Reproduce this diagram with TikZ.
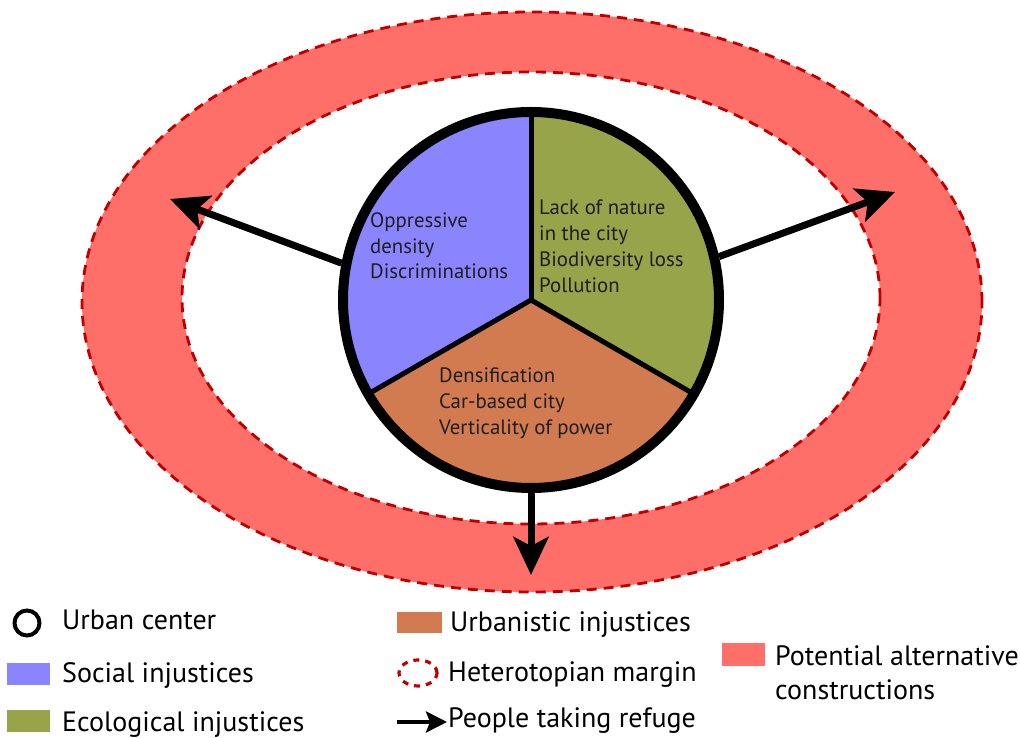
\documentclass[tikz,border=0pt]{standalone}
\usepackage{fontspec}
\setmainfont{PT Sans}
\usetikzlibrary{arrows.meta,shapes.geometric}
\definecolor{socialc}{HTML}{8A85FF}
\definecolor{ecoc}{HTML}{97A44A}
\definecolor{urbc}{HTML}{D37B50}
\definecolor{ringc}{HTML}{FF6F69}
\definecolor{dashc}{HTML}{C00000}
\definecolor{txtc}{HTML}{1E1E1E}
\tikzset{
  margin/.style={draw=dashc, line width=2.8pt, dash pattern=on 10pt off 7pt},
  refuge/.style={line width=7pt, -{Stealth[length=38pt,width=35pt,inset=9pt]}},
  pietext/.style={anchor=base west, inner sep=0pt, text=txtc, font=\fontsize{20.8}{24}\selectfont},
  legtext/.style={anchor=base west, inner sep=0pt, text=black, font=\fontsize{28}{32}\selectfont},
  divider/.style={line width=5pt},
}
\begin{document}
\begin{tikzpicture}[x=1pt,y=1pt]
\useasboundingbox (0,0) rectangle (1020,738);
% ring of potential alternative constructions
\fill[ringc, even odd rule] (532,436) ellipse [x radius=450, y radius=290]
                           (531,440) ellipse [x radius=349, y radius=226];
\draw[margin] (532,436) ellipse [x radius=450, y radius=290];
\draw[margin] (531,440) ellipse [x radius=349, y radius=226];
% pie
\coordinate (c) at (531,438);
\fill[socialc] (c) -- ++(90:188) arc[start angle=90, end angle=210, radius=188] -- cycle;
\fill[urbc] (c) -- ++(210:188) arc[start angle=210, end angle=330, radius=188] -- cycle;
\fill[ecoc] (c) -- ++(330:188) arc[start angle=330, end angle=450, radius=188] -- cycle;
\draw[divider] (c) -- ++(90:188);
\draw[divider] (c) -- ++(210:188);
\draw[divider] (c) -- ++(330:188);
\node[circle, draw, line width=10pt, minimum size=376pt, inner sep=0pt] (city) at (c) {};
% pie texts
\node[pietext] (s1) at (370,510) {Oppressive};
\node[pietext] (s2) at (370,484.5) {density};
\node[pietext] (s3) at (370,459) {Discriminations};
\node[pietext] (e1) at (539,523) {Lack of nature};
\node[pietext] (e2) at (539,497.3) {in the city};
\node[pietext] (e3) at (539,471.6) {Biodiversity loss};
\node[pietext] (e4) at (539,445.9) {Pollution};
\node[pietext] (u1) at (439,355) {Densification};
\node[pietext] (u2) at (439,329.3) {Car-based city};
\node[pietext] (u3) at (439,303.6) {Verticality of power};
% arrows
\coordinate (lt) at (170,539);
\coordinate (rt) at (895,546);
\coordinate (dt) at (531,163);
\draw[refuge] (city.169) -- (lt);
\draw[refuge] (city.13) -- (rt);
\draw[refuge] (city.270) -- (dt);
% legend
\node[circle, draw, line width=4pt, minimum size=25pt, inner sep=0pt] (lcity) at (27,115) {};
\node[legtext] (lcityt) at (62,108) {Urban center};
\fill[socialc] (7,53) rectangle (50,75);
\node[legtext] (lsoct) at (62,55) {Social injustices};
\fill[ecoc] (7,6) rectangle (50,28);
\node[legtext] (lecot) at (62,6) {Ecological injustices};
\fill[urbc] (397,105) rectangle (442,126);
\node[legtext] (lurbt) at (450,106) {Urbanistic injustices};
\draw[draw=dashc, line width=3.2pt, dash pattern=on 6pt off 6pt] (418,65) ellipse [x radius=19, y radius=13];
\node[legtext] (lmart) at (448,56) {Heterotopian margin};
\coordinate (la0) at (397,16);
\coordinate (la1) at (447,16);
\draw[line width=4pt, -{Stealth[length=21pt,width=21pt,inset=4pt]}] (la0) -- (la1);
\node[legtext] (lreft) at (448,10) {People taking refuge};
\fill[ringc] (722,72) rectangle (765,95);
\node[legtext] (lpot1) at (775,72) {Potential alternative};
\node[legtext] (lpot2) at (775,38) {constructions};
\end{tikzpicture}
\end{document}
